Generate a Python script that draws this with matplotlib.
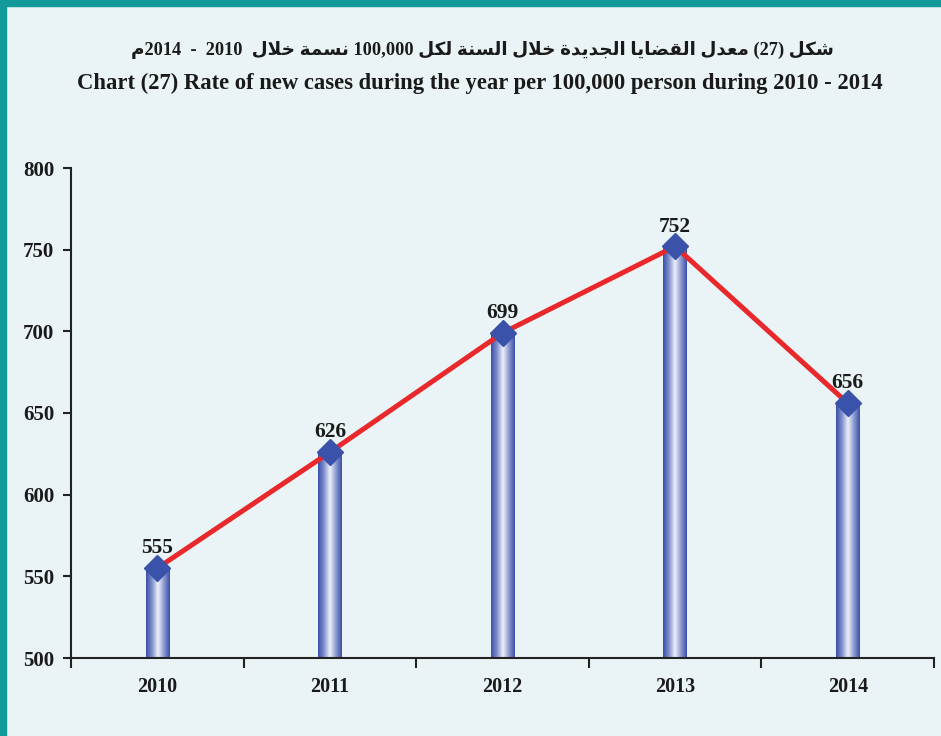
import matplotlib
matplotlib.use("Agg")
import matplotlib.pyplot as plt
import numpy as np
from matplotlib.colors import LinearSegmentedColormap
from matplotlib.patches import Rectangle

# data
years = ["2010", "2011", "2012", "2013", "2014"]
rates = [555, 626, 699, 752, 656]
y_ticks = [500, 550, 600, 650, 700, 750, 800]

title_ar = "شكل (27) معدل القضايا الجديدة خلال السنة لكل 100,000 نسمة خلال  2010  -  2014\u0645"
title_en = "Chart (27) Rate of new cases during the year per 100,000 person during 2010 - 2014"

BG = "#eaf4f6"
BORDER = "#129a9a"
BAR_DARK = "#3a4ea8"
BAR_LIGHT = "#eef0fa"
LINE_RED = "#e8282a"
MARKER_BLUE = "#3a52aa"
SERIF = ["Liberation Serif", "DejaVu Sans"]

# isolated, final, initial, medial presentation forms
FORMS = {
    "ا": (0xFE8D, 0xFE8E, None, None),
    "د": (0xFEA9, 0xFEAA, None, None),
    "ة": (0xFE93, 0xFE94, None, None),
    "ج": (0xFE9D, 0xFE9E, 0xFE9F, 0xFEA0),
    "خ": (0xFEA5, 0xFEA6, 0xFEA7, 0xFEA8),
    "س": (0xFEB1, 0xFEB2, 0xFEB3, 0xFEB4),
    "ش": (0xFEB5, 0xFEB6, 0xFEB7, 0xFEB8),
    "ض": (0xFEBD, 0xFEBE, 0xFEBF, 0xFEC0),
    "ع": (0xFEC9, 0xFECA, 0xFECB, 0xFECC),
    "ق": (0xFED5, 0xFED6, 0xFED7, 0xFED8),
    "ك": (0xFED9, 0xFEDA, 0xFEDB, 0xFEDC),
    "ل": (0xFEDD, 0xFEDE, 0xFEDF, 0xFEE0),
    "م": (0xFEE1, 0xFEE2, 0xFEE3, 0xFEE4),
    "ن": (0xFEE5, 0xFEE6, 0xFEE7, 0xFEE8),
    "ي": (0xFEF1, 0xFEF2, 0xFEF3, 0xFEF4),
}


def shape_word(word):
    # joins letters and returns them in visual (left to right) order
    out = []
    i = 0
    n = len(word)
    while i < n:
        c = word[i]
        prev_joins = i > 0 and FORMS[word[i - 1]][2] is not None
        if c == "ل" and i + 1 < n and word[i + 1] == "ا":
            out.append(chr(0xFEFC if prev_joins else 0xFEFB))
            i += 2
            continue
        iso, fin, ini, med = FORMS[c]
        next_ok = ini is not None and i + 1 < n
        if prev_joins and next_ok:
            g = med
        elif prev_joins:
            g = fin
        elif next_ok:
            g = ini
        else:
            g = iso
        out.append(chr(g))
        i += 1
    return "".join(reversed(out))


def visual(text):
    # tiny right-to-left layout: reverse words and runs, shape the arabic runs
    tokens = text.split(" ")
    res = []
    for tok in reversed(tokens):
        runs = []
        cur = ""
        for ch in tok:
            if cur and (ch in FORMS) != (cur[0] in FORMS):
                runs.append(cur)
                cur = ""
            cur += ch
        if cur:
            runs.append(cur)
        res.append("".join(shape_word(r) if r[0] in FORMS else r for r in reversed(runs)))
    return " ".join(res)


fig = plt.figure(figsize=(9.41, 7.36), dpi=100, facecolor=BG)
fig.patches.append(Rectangle((0, 0), 6 / 941, 1, transform=fig.transFigure, color=BORDER, zorder=0))
fig.patches.append(Rectangle((0, 1 - 6 / 736), 1, 6 / 736, transform=fig.transFigure, color=BORDER, zorder=0))

fig.text(0.513, 1 - 50 / 736, visual(title_ar), ha="center", va="center",
         fontsize=13.2, fontweight="bold", family=SERIF, color="#1a1a1a")
fig.text(0.51, 1 - 83 / 736, title_en, ha="center", va="center",
         fontsize=16.3, fontweight="bold", family=SERIF, color="#1a1a1a")

ax = fig.add_axes([71 / 941, 1 - 658 / 736, 863 / 941, 490 / 736])
ax.set_facecolor(BG)

x = np.arange(len(years))
bar_w = 0.135
bars = ax.bar(x, [r - 500 for r in rates], bottom=500, width=bar_w, color="none", zorder=2)

cmap = LinearSegmentedColormap.from_list("cyl", [BAR_DARK, "#7f8fcc", BAR_LIGHT, "#8d9ad0", BAR_DARK])
grad = np.linspace(0, 1, 256).reshape(1, -1)
for b, xi, r in zip(bars, x, rates):
    im = ax.imshow(grad, cmap=cmap, aspect="auto", extent=(xi - bar_w / 2, xi + bar_w / 2, 500, r),
                   zorder=2, interpolation="bilinear")
    im.set_clip_path(b)

ax.plot(x, rates, color=LINE_RED, lw=3.6, zorder=3, solid_capstyle="butt")
ax.plot(x, rates, linestyle="none", marker="D", markersize=13, color=MARKER_BLUE, zorder=4)

for xi, r in zip(x, rates):
    ax.annotate(str(r), (xi, r), xytext=(0, 7), textcoords="offset points", ha="center",
                va="bottom", fontsize=15.5, fontweight="bold", family=SERIF, color="#1a1a1a")

ax.set_xlim(-0.5, len(years) - 0.5)
ax.set_ylim(500, 800)
ax.set_yticks(y_ticks)
ax.set_yticklabels([str(t) for t in y_ticks], fontsize=15, fontweight="bold", family=SERIF, color="#1a1a1a")
ax.set_xticks(x)
ax.set_xticklabels(years, fontsize=14.5, fontweight="bold", family=SERIF, color="#1a1a1a")
ax.set_xticks(np.arange(-0.5, len(years)), minor=True)
ax.tick_params(axis="x", which="major", length=0, pad=14)
ax.tick_params(axis="x", which="minor", length=7, width=1.5, direction="out", color="#222222")
ax.tick_params(axis="y", length=6, width=1.5, direction="out", color="#222222", pad=6)

for s in ["top", "right"]:
    ax.spines[s].set_visible(False)
for s in ["left", "bottom"]:
    ax.spines[s].set_linewidth(1.5)
    ax.spines[s].set_color("#222222")

fig.savefig("out.png", dpi=100, facecolor=BG)
